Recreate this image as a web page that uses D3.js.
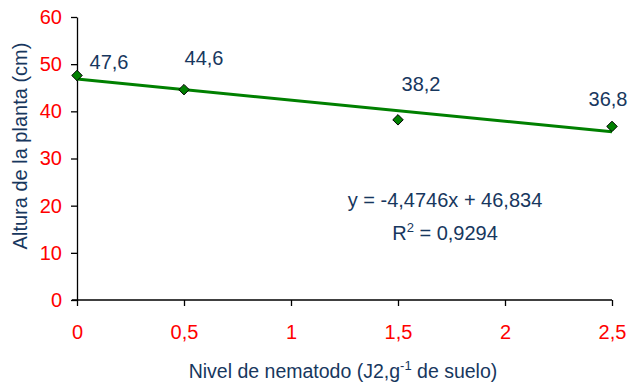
<!DOCTYPE html>
<html><head><meta charset="utf-8">
<script src="https://cdn.jsdelivr.net/npm/d3@7"></script>
<style>body{margin:0;background:#fff}svg{display:block}</style>
</head><body>
<svg id="c" width="639" height="385"></svg>
<script>
const xValues = [0, 0.5, 1.5, 2.5];
const yValues = [47.6, 44.6, 38.2, 36.8];
const pointLabels = ["47,6", "44,6", "38,2", "36,8"];
const xTicks = [0, 0.5, 1, 1.5, 2, 2.5];
const xTickLabels = ["0", "0,5", "1", "1,5", "2", "2,5"];
const yTicks = [0, 10, 20, 30, 40, 50, 60];
const trendSlope = -4.4746, trendIntercept = 46.834;
const eqText = "y = -4,4746x + 46,834";
const r2Value = "0,9294";

const svg = d3.select("#c");
const font = "Liberation Sans, Arial, sans-serif";
const blue = "#17375E";
const red = "#FF0000";
const x = d3.scaleLinear().domain([0, 2.5]).range([77, 612]);
const y = d3.scaleLinear().domain([0, 60]).range([300, 17]);

const xAxis = svg.append("g").attr("transform", "translate(0,300)")
  .call(d3.axisBottom(x).tickValues(xTicks).tickFormat((d,i)=>xTickLabels[i]).tickSizeInner(6).tickSizeOuter(0).tickPadding(19));
const yAxis = svg.append("g").attr("transform", "translate(77,0)")
  .call(d3.axisLeft(y).tickValues(yTicks).tickSizeInner(6).tickSizeOuter(0).tickPadding(9));
[xAxis, yAxis].forEach(a => {
  a.selectAll("path,line").attr("stroke", "#000").attr("stroke-width", 1.3);
  a.selectAll("text").attr("fill", red).attr("font-family", font).attr("font-size", 20);
});
xAxis.select(".domain").attr("d", `M${x(0)-5},0H${x(2.5)}`);

// trend line
svg.append("line")
  .attr("x1", x(0)).attr("y1", y(trendIntercept))
  .attr("x2", x(2.5)).attr("y2", y(trendIntercept + trendSlope * 2.5))
  .attr("stroke", "#008000").attr("stroke-width", 3);

// markers
const data = xValues.map((v, i) => ({x: v, y: yValues[i], label: pointLabels[i]}));
svg.selectAll("path.pt").data(data).enter().append("path")
  .attr("class", "pt")
  .attr("d", d3.symbol().type(d3.symbolDiamond2).size(70))
  .attr("transform", d => `translate(${x(d.x)},${y(d.y)})`)
  .attr("fill", "#008000").attr("stroke", "#000").attr("stroke-width", 1);

// point labels (offsets = manual placements)
const offs = [[32, -6], [20, -25], [23, -29], [-4, -20]];
svg.selectAll("text.pl").data(data).enter().append("text")
  .attr("class", "pl")
  .attr("x", (d, i) => x(d.x) + offs[i][0])
  .attr("y", (d, i) => y(d.y) + offs[i][1])
  .attr("text-anchor", "middle")
  .attr("font-family", font).attr("font-size", 20).attr("fill", blue)
  .text(d => d.label);

// equation
svg.append("text").attr("x", 445).attr("y", 207).attr("text-anchor", "middle")
  .attr("font-family", font).attr("font-size", 20).attr("fill", blue).text(eqText);
const r2 = svg.append("text").attr("x", 445).attr("y", 240).attr("text-anchor", "middle")
  .attr("font-family", font).attr("font-size", 20).attr("fill", blue);
r2.append("tspan").text("R");
r2.append("tspan").attr("dy", -8).attr("font-size", 13).text("2");
r2.append("tspan").attr("dy", 8).text(" = " + r2Value);

// axis titles
svg.append("text").attr("transform", "translate(27,146) rotate(-90)")
  .attr("text-anchor", "middle").attr("font-family", font).attr("font-size", 20).attr("fill", blue)
  .text("Altura de la planta (cm)");
const xt = svg.append("text").attr("x", 343).attr("y", 378).attr("text-anchor", "middle")
  .attr("font-family", font).attr("font-size", 19.5).attr("fill", blue);
xt.append("tspan").text("Nivel de nematodo (J2,g");
xt.append("tspan").attr("dy", -8).attr("font-size", 13).text("-1");
xt.append("tspan").attr("dy", 8).text(" de suelo)");
</script>
</body></html>
